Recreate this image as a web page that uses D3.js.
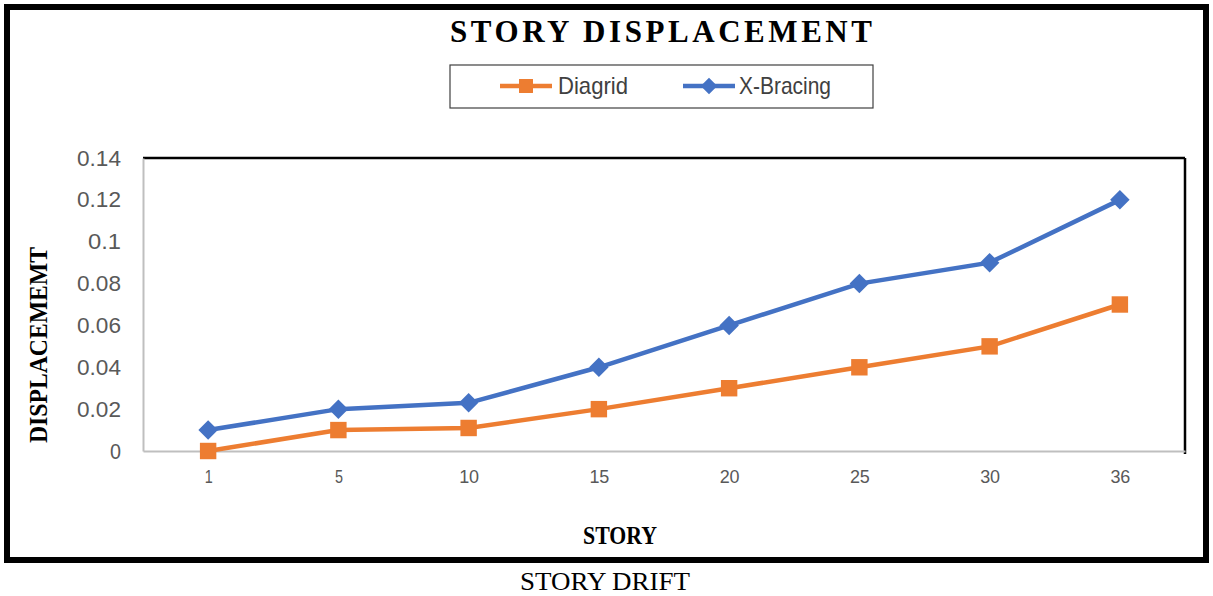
<!DOCTYPE html>
<html>
<head>
<meta charset="utf-8">
<script src="https://cdn.jsdelivr.net/npm/d3@7"></script>
<style>
  body { margin: 0; background: #fff; }
  svg { display: block; }
</style>
</head>
<body>
<div id="chart"></div>
<script>
// Data
const stories = ['1', '5', '10', '15', '20', '25', '30', '36'];
const diagrid = [0, 0.01, 0.011, 0.02, 0.03, 0.04, 0.05, 0.07];
const xBracing = [0.01, 0.02, 0.023, 0.04, 0.06, 0.08, 0.09, 0.12];
const yTicks = [0, 0.02, 0.04, 0.06, 0.08, 0.1, 0.12, 0.14];

const width = 1213;
const height = 596;
const plot = { left: 143, right: 1185, top: 158, bottom: 451 };
const sans = '"Liberation Sans", Arial, sans-serif';
const serif = '"Liberation Serif", "Times New Roman", serif';

const svg = d3.select('#chart').append('svg')
  .attr('width', width)
  .attr('height', height);

// Outer frame
svg.append('rect')
  .attr('x', 7).attr('y', 7)
  .attr('width', 1199).attr('height', 553)
  .attr('fill', '#fff')
  .attr('stroke', '#000')
  .attr('stroke-width', 6);

const x = d3.scalePoint()
  .domain(stories)
  .range([plot.left, plot.right])
  .padding(0.5);

const y = d3.scaleLinear()
  .domain([0, 0.14])
  .range([plot.bottom, plot.top]);

// Plot area border: black top/right, grey left/bottom
svg.append('line')
  .attr('x1', plot.left).attr('x2', plot.right)
  .attr('y1', plot.top).attr('y2', plot.top)
  .attr('stroke', '#000').attr('stroke-width', 2.5);
svg.append('line')
  .attr('x1', plot.right).attr('x2', plot.right)
  .attr('y1', plot.top).attr('y2', plot.bottom + 3)
  .attr('stroke', '#000').attr('stroke-width', 2.5);

// Y axis
const yAxis = svg.append('g')
  .attr('transform', `translate(${plot.left},0)`)
  .call(d3.axisLeft(y).tickValues(yTicks).tickSize(0).tickPadding(22)
    .tickFormat(d => d3.format('')(+d.toFixed(2))));
yAxis.select('.domain').attr('stroke', '#bfbfbf').attr('stroke-width', 2);
yAxis.selectAll('text')
  .attr('fill', '#595959')
  .style('font-family', sans)
  .style('font-size', '22px')
  .attr('textLength', d => d === 0 ? 11 : (String(+d.toFixed(2)).length * 11))
  .attr('lengthAdjust', 'spacingAndGlyphs');

// X axis
const xAxis = svg.append('g')
  .attr('transform', `translate(0,${plot.bottom})`)
  .call(d3.axisBottom(x).tickSize(0).tickPadding(19));
xAxis.select('.domain').attr('stroke', '#bfbfbf').attr('stroke-width', 2);
xAxis.selectAll('text')
  .attr('fill', '#595959')
  .style('font-family', sans)
  .style('font-size', '19px')
  .attr('textLength', d => d.length === 1 ? 8 : 20)
  .attr('lengthAdjust', 'spacingAndGlyphs');

// Series
const diamond = d3.symbol().type(d3.symbolSquare).size(190);
const series = [
  { name: 'Diagrid', values: diagrid, color: '#ED7D31', path: d3.symbol().type(d3.symbolSquare).size(270), rot: 0, len: 70 },
  { name: 'X-Bracing', values: xBracing, color: '#4472C4', path: diamond, rot: 45, len: 92 }
];

const line = d3.line()
  .x((d, i) => x(stories[i]))
  .y(d => y(d));

series.forEach(s => {
  svg.append('path')
    .datum(s.values)
    .attr('d', line)
    .attr('fill', 'none')
    .attr('stroke', s.color)
    .attr('stroke-width', 4.5);
  svg.selectAll(null)
    .data(s.values)
    .enter()
    .append('path')
    .attr('d', s.path)
    .attr('transform', (d, i) => `translate(${x(stories[i])},${y(d)}) rotate(${s.rot})`)
    .attr('fill', s.color);
});

// Title
svg.append('text')
  .attr('x', 661).attr('y', 42)
  .attr('text-anchor', 'middle')
  .style('font-family', serif)
  .style('font-weight', 'bold')
  .style('font-size', '31px')
  .attr('textLength', 422)
  .attr('lengthAdjust', 'spacing')
  .text('STORY DISPLACEMENT');

// Legend
const legend = svg.append('g');
legend.append('rect')
  .attr('x', 450).attr('y', 65)
  .attr('width', 423).attr('height', 43)
  .attr('fill', '#fff')
  .attr('stroke', '#404040')
  .attr('stroke-width', 1.2);
const legendItems = [
  { s: series[0], x0: 500, tx: 558, size: 0.85 },
  { s: series[1], x0: 683, tx: 739, size: 0.85 }
];
legendItems.forEach(it => {
  legend.append('line')
    .attr('x1', it.x0).attr('x2', it.x0 + 52)
    .attr('y1', 86).attr('y2', 86)
    .attr('stroke', it.s.color).attr('stroke-width', 4.5);
  legend.append('path')
    .attr('d', it.s.path)
    .attr('transform', `translate(${it.x0 + 26},86) rotate(${it.s.rot}) scale(${it.size})`)
    .attr('fill', it.s.color);
  legend.append('text')
    .attr('x', it.tx).attr('y', 94)
    .attr('fill', '#404040')
    .style('font-family', sans)
    .style('font-size', '24px')
    .attr('textLength', it.s.len)
    .attr('lengthAdjust', 'spacingAndGlyphs')
    .text(it.s.name);
});

// Axis titles
svg.append('text')
  .attr('transform', 'translate(47,345) rotate(-90)')
  .attr('text-anchor', 'middle')
  .style('font-family', serif)
  .style('font-weight', 'bold')
  .style('font-size', '25px')
  .attr('textLength', 196)
  .attr('lengthAdjust', 'spacingAndGlyphs')
  .text('DISPLACEMEMT');

svg.append('text')
  .attr('x', 620).attr('y', 544)
  .attr('text-anchor', 'middle')
  .style('font-family', serif)
  .style('font-weight', 'bold')
  .style('font-size', '25px')
  .attr('textLength', 74)
  .attr('lengthAdjust', 'spacingAndGlyphs')
  .text('STORY');

svg.append('text')
  .attr('x', 605).attr('y', 590)
  .attr('text-anchor', 'middle')
  .style('font-family', serif)
  .style('font-size', '25px')
  .attr('textLength', 170)
  .attr('lengthAdjust', 'spacingAndGlyphs')
  .text('STORY DRIFT');
</script>
</body>
</html>
